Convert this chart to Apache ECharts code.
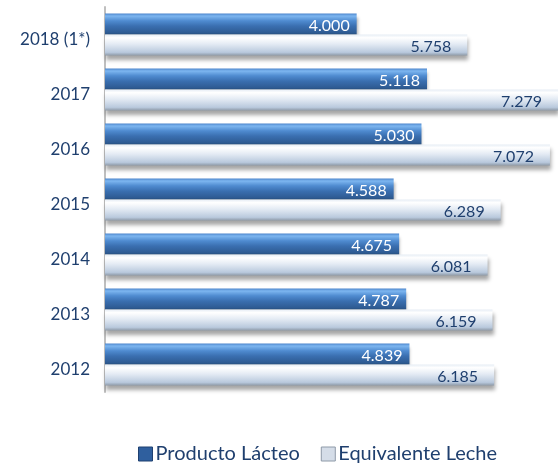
<!DOCTYPE html>
<html>
<head>
<meta charset="utf-8">
<script src="https://cdn.jsdelivr.net/npm/echarts@6/dist/echarts.min.js"></script>
<style>html,body{margin:0;padding:0;background:#fff}#c{width:558px;height:464px}</style>
</head>
<body>
<div id="c"></div>
<script>
const categories = ['2012', '2013', '2014', '2015', '2016', '2017', '2018 (1*)'];
const productoLacteo = [4839, 4787, 4675, 4588, 5030, 5118, 4000];
const equivalenteLeche = [6185, 6159, 6081, 6289, 7072, 7279, 5758];
const seriesNames = ['Producto Lácteo', 'Equivalente Leche'];

function fmt(v) {
  return String(Math.round(v)).replace(/\B(?=(\d{3})+(?!\d))/g, '.');
}
const textColor = '#1f3f6e';
const blueGrad = new echarts.graphic.LinearGradient(0, 0, 0, 1, [
  {offset: 0, color: '#4d86cc'},
  {offset: 0.12, color: '#7db6f0'},
  {offset: 0.35, color: '#4f8bd0'},
  {offset: 0.6, color: '#3a6fb0'},
  {offset: 0.9, color: '#2f5c94'},
  {offset: 1, color: '#27507f'}
]);
const grayGrad = new echarts.graphic.LinearGradient(0, 0, 0, 1, [
  {offset: 0, color: '#e6edf5'},
  {offset: 0.15, color: '#ffffff'},
  {offset: 0.45, color: '#e4ebf4'},
  {offset: 0.85, color: '#b9c9dd'},
  {offset: 1, color: '#8e9aa8'}
]);
const chart = echarts.init(document.getElementById('c'), null, {renderer: 'canvas'});
chart.setOption({
  animation: false,
  backgroundColor: '#fff',
  textStyle: {fontFamily: 'Lato'},
  grid: {left: 105, right: 0, top: 7, bottom: 72, containLabel: false},
  legend: {
    data: [
      {name: seriesNames[0], itemStyle: {color: '#2f5f9e', borderColor: '#1f4070', borderWidth: 1}},
      {name: seriesNames[1], itemStyle: {color: '#d5dde8', borderColor: '#8e9aa8', borderWidth: 1}}
    ],
    top: 439,
    left: 133,
    itemWidth: 14,
    itemHeight: 14,
    itemGap: 21,
    icon: 'rect',
    textStyle: {color: textColor, fontSize: 20, fontFamily: 'Lato', padding: [0, 0, 0, -2]}
  },
  xAxis: {
    type: 'value', min: 0, max: 7200,
    axisLabel: {show: false}, axisLine: {show: false}, axisTick: {show: false},
    splitLine: {show: false}
  },
  yAxis: {
    type: 'category',
    data: categories,
    axisLine: {show: true, lineStyle: {color: '#bfbfbf', width: 2}},
    axisTick: {show: false},
    axisLabel: {
      color: textColor, fontSize: 17, fontFamily: 'Lato', margin: 15,
      formatter: v => '{a|' + v + '}',
      rich: {a: {color: textColor, fontSize: 17, fontFamily: 'Lato', padding: [10, 0, 0, 0]}}
    }
  },
  series: [
    {
      name: seriesNames[0], type: 'bar', data: productoLacteo,
      barWidth: 21, barGap: '0%',
      itemStyle: {color: blueGrad, shadowColor: 'rgba(0,0,0,0.3)', shadowBlur: 3, shadowOffsetY: 3, shadowOffsetX: 1},
      label: {show: true, position: 'insideRight', distance: 7, offset: [0, 2], color: '#ffffff', fontSize: 16, fontFamily: 'Lato', formatter: p => fmt(p.value)}
    },
    {
      name: seriesNames[1], type: 'bar', data: equivalenteLeche,
      barWidth: 21,
      itemStyle: {color: grayGrad, shadowColor: 'rgba(0,0,0,0.35)', shadowBlur: 4, shadowOffsetY: 4, shadowOffsetX: 1},
      label: {show: true, position: 'insideRight', distance: 16, offset: [0, 2], color: textColor, fontSize: 16, fontFamily: 'Lato', formatter: p => fmt(p.value)}
    }
  ]
});
</script>
</body>
</html>
